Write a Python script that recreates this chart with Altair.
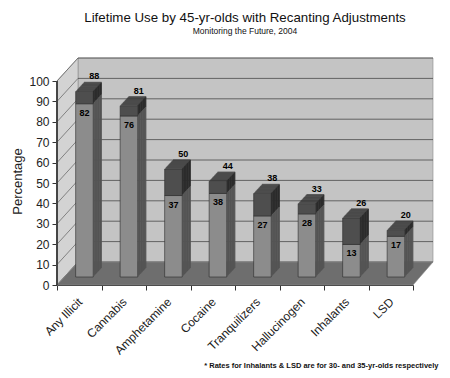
import altair as alt
import pandas as pd

# ---- data ----
categories = ["Any Illicit", "Cannabis", "Amphetamine", "Cocaine",
              "Tranquilizers", "Hallucinogen", "Inhalants", "LSD"]
reported = [82, 76, 37, 38, 27, 28, 13, 17]      # lower (light) segment label
adjusted = [88, 81, 50, 44, 38, 33, 26, 20]      # total with recanting adjustment
grid_values = list(range(0, 101, 10))

df = pd.DataFrame({"cat": categories, "reported": reported, "adjusted": adjusted})
grid_df = pd.DataFrame({"v": grid_values})

# ---- geometry / style ----
W, H = 376, 228            # view (includes the back wall depth)
FRONT_SPAN = 204           # pixels for 0..100 on front axis
PPU = FRONT_SPAN / 100.0
Y_MAX = H / PPU
BAND_RANGE = 356
WALL_DX, WALL_DY = 21, 23
WALL_DYU = WALL_DY / PPU

BAR_W, BAR_X = 17.6, 5.2
BAR_DY, BASE_DY = -14, -8
DEP_DX, DEP_DY = 8.4, 9.0
STEPS = 12

C_BACK, C_LEFT, C_FLOOR = "#c4c4c4", "#d3d3d3", "#6e6e6e"
C_GRID = "#4a4a4a"
C_LOW, C_UP = "#8c8c8c", "#4e4e4e"
C_TOP, C_SIDE_UP, C_SIDE_LOW = "#383838", "#2b2b2b", "#545454"

yscale = alt.Scale(domain=[0, Y_MAX], nice=False, zero=False)
xscale = alt.Scale(domain=categories, range=[0, BAND_RANGE], paddingInner=0, paddingOuter=0)
pxscale = alt.Scale(domain=[0, W], range=[0, W], nice=False, zero=False)

yaxis = alt.Axis(values=grid_values, domain=False, grid=False, tickSize=5, tickColor="#333",
                 labelFontSize=12, labelFont="Liberation Sans", labelColor="#222", labelPadding=3,
                 labelOverlap=False,
                 title="Percentage", titleFontSize=13, titleFont="Liberation Sans",
                 titleFontWeight="normal", titleColor="#222",
                 titleX=-40, titleY=124, titleAngle=270, titleAlign="center", titleBaseline="middle")
xaxis = alt.Axis(labelAngle=-45, labelFontSize=12, labelFont="Liberation Sans", labelColor="#222",
                 tickBand="extent", tickSize=5, tickColor="#333", domainColor="#333",
                 labelPadding=6, labelOffset=-3, grid=False, labelOverlap=False,
                 title="* Rates for Inhalants & LSD are for 30- and 35-yr-olds respectively",
                 titleFontSize=7.5, titleFont="Liberation Sans", titleFontWeight="bold",
                 titleColor="#111", titleX=381, titleY=80, titleAlign="right",
                 titleBaseline="middle", titleAngle=0)


def Yq(field):
    return alt.Y(field, scale=yscale, axis=yaxis)


# ---- decoration polygons (walls & floor) on an identity x scale ----
def wall(px, ytop, ybot, fill):
    d = pd.DataFrame({"px": px, "ytop": ytop, "ybot": ybot})
    return alt.Chart(d).mark_area(fill=fill, stroke="#8a8a8a", strokeWidth=0.6).encode(
        x=alt.X("px:Q", scale=pxscale, axis=None),
        y=Yq("ytop:Q"),
        y2="ybot:Q",
    )

back_wall = wall([WALL_DX, W], [100 + WALL_DYU] * 2, [WALL_DYU] * 2, C_BACK)
left_wall = wall([0, WALL_DX], [100, 100 + WALL_DYU], [0, WALL_DYU], C_LEFT)
floor = wall([0, WALL_DX, BAND_RANGE, W], [0, WALL_DYU, WALL_DYU, WALL_DYU],
             [0, 0, 0, WALL_DYU], C_FLOOR)

back_grid = alt.Chart(grid_df).mark_rule(color=C_GRID, strokeWidth=0.8, yOffset=-WALL_DY).encode(
    x=alt.value(WALL_DX), x2=alt.value(W), y=Yq("v:Q"))
diag_grid = alt.Chart(grid_df).mark_rule(color=C_GRID, strokeWidth=0.6, y2Offset=-WALL_DY).encode(
    x=alt.value(0), x2=alt.value(WALL_DX), y=Yq("v:Q"), y2="v:Q")
decor = alt.layer(back_wall, left_wall, back_grid, diag_grid, floor)

base = alt.Chart(df)
X_main = alt.X("cat:N", scale=xscale, axis=xaxis, sort=categories)

front_low = base.mark_bar(width=BAR_W, xOffset=BAR_X, yOffset=BAR_DY, y2Offset=BASE_DY,
                          color=C_LOW, stroke="#2a2a2a", strokeWidth=0.6).encode(
    x=X_main, y=Yq("reported:Q"), y2=alt.datum(0))

layers = []
for i in range(1, STEPS + 1):
    dx = DEP_DX * i / STEPS
    dy = DEP_DY * i / STEPS
    layers.append(base.mark_rule(color=C_SIDE_LOW, strokeWidth=1.2,
                                 xOffset=BAR_X + BAR_W / 2 + dx - 0.4,
                                 yOffset=BAR_DY - dy, y2Offset=BASE_DY - dy).encode(
        x=X_main, y=Yq("reported:Q"), y2=alt.datum(0)))
    layers.append(base.mark_rule(color=C_SIDE_UP, strokeWidth=1.2,
                                 xOffset=BAR_X + BAR_W / 2 + dx - 0.4,
                                 yOffset=BAR_DY - dy, y2Offset=BAR_DY - dy).encode(
        x=X_main, y=Yq("adjusted:Q"), y2="reported:Q"))
    layers.append(base.mark_tick(color=C_TOP, thickness=1.4, size=BAR_W, orient="horizontal",
                                 xOffset=BAR_X + dx, yOffset=BAR_DY - dy).encode(
        x=X_main, y=Yq("adjusted:Q")))

yline = base.mark_rule(color="#444", strokeWidth=0.8).encode(
    x=alt.value(0), y=alt.Y(datum=0, scale=yscale, axis=yaxis), y2=alt.datum(100))
front_up = base.mark_bar(width=BAR_W, xOffset=BAR_X, yOffset=BAR_DY, y2Offset=BAR_DY,
                         color=C_UP, stroke="#2a2a2a", strokeWidth=0.6).encode(
    x=X_main, y=Yq("adjusted:Q"), y2="reported:Q")
top_lab = base.mark_text(fontSize=9, fontWeight="bold", font="Liberation Sans", color="#000",
                         xOffset=BAR_X + BAR_W / 2 + 1, yOffset=BAR_DY - 15, baseline="middle").encode(
    x=X_main, y=Yq("adjusted:Q"), text="adjusted:Q")
in_lab = base.mark_text(fontSize=9, fontWeight="bold", font="Liberation Sans", color="#000",
                        xOffset=BAR_X, yOffset=BAR_DY + 9, baseline="middle").encode(
    x=X_main, y=Yq("reported:Q"), text="reported:Q")
bars = alt.layer(front_low, *layers, yline, front_up, top_lab, in_lab)

chart = alt.layer(decor, bars).resolve_scale(x="independent").properties(
    width=W, height=H,
    autosize=alt.AutoSizeParams(type="none"),
    padding={"left": 49, "top": 49, "right": 9, "bottom": 85},
    title=alt.TitleParams(
        "Lifetime Use by 45-yr-olds with Recanting Adjustments",
        subtitle="Monitoring the Future, 2004",
        font="Liberation Sans", fontSize=13.3, fontWeight="normal", color="#111",
        subtitleFont="Liberation Sans", subtitleFontSize=8.5, subtitleColor="#111",
        subtitlePadding=3, offset=21, anchor="middle"),
).configure_view(stroke="transparent")

chart.save("out.html", embed_options={"renderer": "svg", "actions": False})
